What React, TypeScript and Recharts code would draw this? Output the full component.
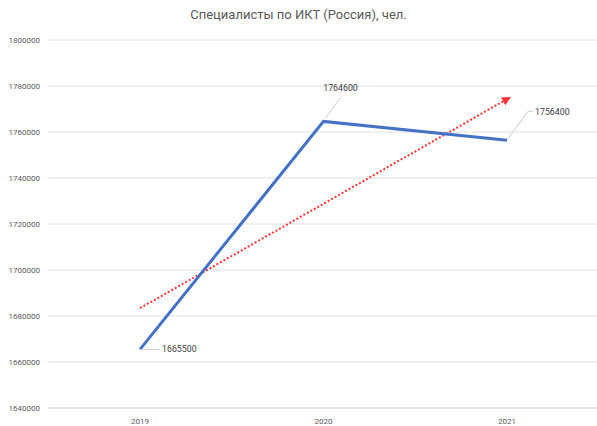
import { LineChart, Line, XAxis, YAxis, CartesianGrid, LabelList } from "recharts";

const years = ["2019", "2020", "2021"];
const specialists = [1665500, 1764600, 1756400];
// linear trend
const trend = [1683400, 1728800, 1774300];
const yTicks = [1640000, 1660000, 1680000, 1700000, 1720000, 1740000, 1760000, 1780000, 1800000];

const data = years.map((year, i) => ({ year, value: specialists[i], trend: trend[i] }));

const FONT = "Roboto, 'Liberation Sans', sans-serif";

function ValueLabel(props: any) {
  const { x, y, value, index } = props;
  const grey = "#bfbfbf";
  const txt = { fontSize: 8.8, fill: "#404040", fontFamily: FONT };
  if (index === 0) {
    return (
      <g>
        <line x1={x} y1={y} x2={x + 20} y2={y} stroke={grey} strokeWidth={0.8} />
        <text x={x + 22} y={y} dominantBaseline="middle" {...txt}>{value}</text>
      </g>
    );
  }
  if (index === 1) {
    return (
      <g>
        <line x1={x + 2} y1={y - 3} x2={x + 17} y2={y - 24} stroke={grey} strokeWidth={0.8} />
        <text x={x + 17} y={y - 33} textAnchor="middle" dominantBaseline="middle" {...txt}>{value}</text>
      </g>
    );
  }
  return (
    <g>
      <polyline
        points={`${x},${y} ${x + 21},${y - 29} ${x + 26},${y - 29}`}
        fill="none"
        stroke={grey}
        strokeWidth={0.8}
      />
      <text x={x + 28} y={y - 28} dominantBaseline="middle" {...txt}>{value}</text>
    </g>
  );
}

export default function App() {
  return (
    <div style={{ position: "absolute", left: 0, top: 0, width: 597, height: 426, background: "#fff" }}>
      <div
        style={{
          position: "absolute",
          top: 7,
          left: 0,
          width: 597,
          textAlign: "center",
          fontFamily: FONT,
          fontSize: 13,
          color: "#595959",
        }}
      >
        Специалисты по ИКТ (Россия), чел.
      </div>
      <LineChart width={597} height={426} data={data} margin={{ top: 40, right: 0, bottom: 0, left: 0 }}>
        <defs>
          <marker id="arrow" viewBox="0 0 10 10" refX="5" refY="5" markerWidth="4.5" markerHeight="4.5" orient="auto">
            <path d="M0,0 L10,5 L0,10 z" fill="#ff3333" />
          </marker>
        </defs>
        <CartesianGrid vertical={false} stroke="#e0e0e0" />
        <XAxis
          dataKey="year"
          height={18}
          padding={{ left: 92, right: 90 }}
          tickLine={false}
          tickSize={0}
          tickMargin={10}
          axisLine={{ stroke: "#d9d9d9" }}
          tick={{ fontSize: 8, fill: "#595959", fontFamily: FONT }}
        />
        <YAxis
          width={48}
          domain={[1640000, 1800000]}
          ticks={yTicks}
          interval={0}
          axisLine={false}
          tickLine={false}
          tickSize={0}
          tickMargin={8}
          tick={{ fontSize: 8, fill: "#595959", fontFamily: FONT }}
        />
        <Line
          dataKey="trend"
          stroke="#ff3333"
          strokeWidth={2}
          strokeDasharray="2 2"
          dot={false}
          activeDot={false}
          markerEnd="url(#arrow)"
          isAnimationActive={false}
        />
        <Line
          dataKey="value"
          stroke="#4472C4"
          strokeWidth={3}
          dot={false}
          activeDot={false}
          isAnimationActive={false}
        >
          <LabelList dataKey="value" content={ValueLabel} />
        </Line>
      </LineChart>
    </div>
  );
}
